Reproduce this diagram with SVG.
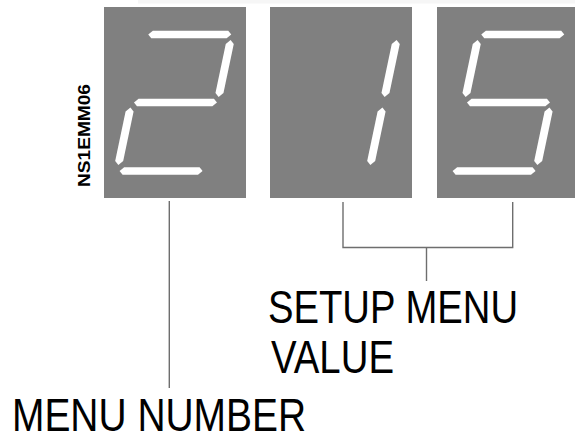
<svg xmlns="http://www.w3.org/2000/svg" xmlns:xlink="http://www.w3.org/1999/xlink" width="575" height="435" viewBox="0 0 575 435">
<style>
.box{fill:#808080}
.seg{fill:#ffffff}
.conn{stroke:#6e6e6e;stroke-width:1.4;fill:none}
.lbl{font-family:"Liberation Sans Narrow","Liberation Sans",Arial,sans-serif;font-size:46.5px;fill:#000}
.code{font-family:"Liberation Sans Narrow","Liberation Sans",Arial,sans-serif;font-size:16px;font-weight:bold;fill:#000}
</style>
<defs>
<polygon id="sa" class="seg" points="51.5,34.5 55.3,30.7 130.7,30.7 134.5,34.5 130.7,38.3 55.3,38.3"/>
<polygon id="sg" class="seg" points="51.5,102.5 55.3,98.7 130.7,98.7 134.5,102.5 130.7,106.3 55.3,106.3"/>
<polygon id="sd" class="seg" points="51.5,171 55.3,167.2 130.7,167.2 134.5,171 130.7,174.8 55.3,174.8"/>
<polygon id="sb" class="seg" points="135,40 139,44 139,93 135,97 131,93 131,44"/>
<polygon id="sc" class="seg" points="135,107.5 139,111.5 139,161 135,165 131,161 131,111.5"/>
<polygon id="sf" class="seg" points="49,40 53,44 53,93 49,97 45,93 45,44"/>
<polygon id="se" class="seg" points="49,107.5 53,111.5 53,161 49,165 45,161 45,111.5"/>
</defs>
<rect x="0" y="0" width="575" height="435" fill="#ffffff"/>
<rect x="138" y="0" width="437" height="3.5" fill="#f6f6f6"/>
<g id="digit-menu-number" transform="translate(104,0)">
<rect class="box" x="0" y="7" width="142" height="191"/>
<g transform="skewX(-11.86)">
<use xlink:href="#sa"/><use xlink:href="#sb"/><use xlink:href="#sg"/><use xlink:href="#se"/><use xlink:href="#sd"/>
</g>
</g>
<g id="digit-value-1" transform="translate(270,0)">
<rect class="box" x="0" y="7" width="142" height="191"/>
<g transform="skewX(-11.86)">
<use xlink:href="#sb"/><use xlink:href="#sc"/>
</g>
</g>
<g id="digit-value-2" transform="translate(437,0)">
<rect class="box" x="0" y="7" width="142" height="191"/>
<g transform="skewX(-11.86)">
<use xlink:href="#sa"/><use xlink:href="#sf"/><use xlink:href="#sg"/><use xlink:href="#sc"/><use xlink:href="#sd"/>
</g>
</g>
<g id="code">
<text class="code" transform="translate(89.5,187) rotate(-90)" x="0" y="0" textLength="103" lengthAdjust="spacingAndGlyphs">NS1EMM06</text>
</g>
<g id="connectors">
<line class="conn" x1="169.3" y1="201" x2="169.3" y2="388"/>
<polyline class="conn" points="343,202 343,247.5 512.7,247.5 512.7,202"/>
<line class="conn" x1="426.5" y1="247.5" x2="426.5" y2="281"/>
</g>
<g id="label-setup">
<text class="lbl" x="268" y="323" textLength="250" lengthAdjust="spacingAndGlyphs">SETUP MENU</text>
<text class="lbl" x="271" y="372.5" textLength="123" lengthAdjust="spacingAndGlyphs">VALUE</text>
</g>
<g id="label-menu-number">
<text class="lbl" x="12" y="430.5" textLength="294" lengthAdjust="spacingAndGlyphs">MENU NUMBER</text>
</g>
</svg>
